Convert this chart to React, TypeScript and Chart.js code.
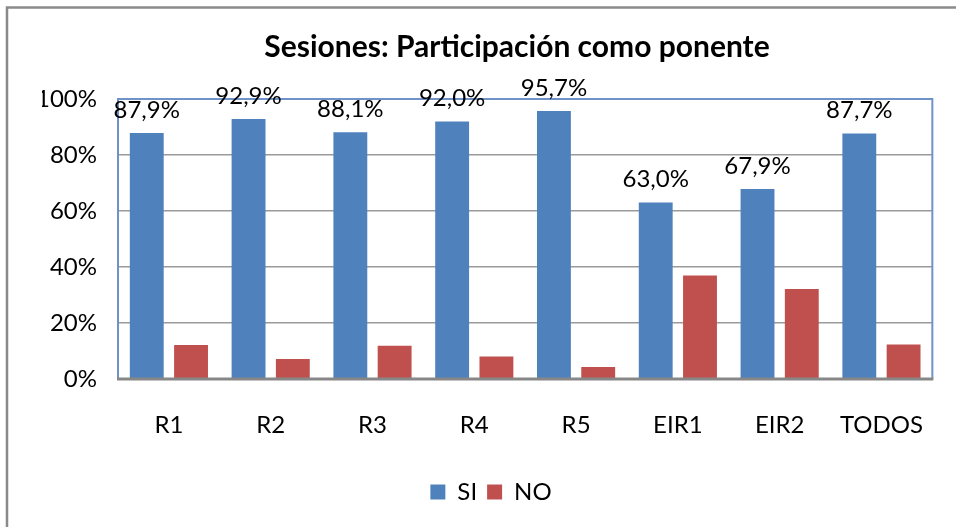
import React, { useEffect, useRef } from "react";
import { Chart, registerables } from "chart.js";

Chart.register(...registerables);

const categories = ["R1", "R2", "R3", "R4", "R5", "EIR1", "EIR2", "TODOS"];
const siValues = [87.9, 92.9, 88.1, 92.0, 95.7, 63.0, 67.9, 87.7];
const noValues = [12.1, 7.1, 11.9, 8.0, 4.3, 37.0, 32.1, 12.3];
const yTicks = [0, 20, 40, 60, 80, 100];
const titleText = "Sesiones: Participación como ponente";

const FONT = "Lato, 'Open Sans', sans-serif";

const framePlugin = {
  id: "frame",
  beforeDraw(chart: any) {
    const ctx = chart.ctx;
    ctx.save();
    ctx.fillStyle = "#ffffff";
    ctx.fillRect(0, 0, chart.width, chart.height);
    ctx.strokeStyle = "#8a8a8a";
    ctx.lineWidth = 2.5;
    ctx.beginPath();
    ctx.moveTo(7, chart.height + 2);
    ctx.lineTo(7, 7.5);
    ctx.lineTo(chart.width + 2, 7.5);
    ctx.stroke();
    // title
    ctx.fillStyle = "#000";
    ctx.font = `bold 30px ${FONT}`;
    ctx.textAlign = "center";
    ctx.textBaseline = "middle";
    ctx.fillText(titleText, 517, 47);
    ctx.restore();
  },
  afterDatasetsDraw(chart: any) {
    const ctx = chart.ctx;
    const a = chart.chartArea;
    ctx.save();
    ctx.strokeStyle = "#6f93c8";
    ctx.lineWidth = 2;
    ctx.beginPath();
    ctx.moveTo(a.left, a.bottom);
    ctx.lineTo(a.left, a.top);
    ctx.lineTo(a.right, a.top);
    ctx.lineTo(a.right, a.bottom);
    ctx.stroke();
    ctx.strokeStyle = "#878787";
    ctx.lineWidth = 3;
    ctx.beginPath();
    ctx.moveTo(a.left - 1, a.bottom);
    ctx.lineTo(a.right + 1, a.bottom);
    ctx.stroke();
    // data labels for SI
    const meta = chart.getDatasetMeta(0);
    ctx.fillStyle = "#000";
    ctx.font = `24px ${FONT}`;
    ctx.textAlign = "center";
    ctx.textBaseline = "middle";
    meta.data.forEach((bar: any, i: number) => {
      const v = siValues[i];
      const txt = v.toFixed(1).replace(".", ",") + "%";
      ctx.fillText(txt, bar.x, bar.y - 23);
    });
    ctx.restore();
  },
};

export default function App() {
  const ref = useRef<HTMLCanvasElement | null>(null);
  useEffect(() => {
    if (!ref.current) return;
    const chart = new Chart(ref.current, {
      type: "bar",
      data: {
        labels: categories,
        datasets: [
          { label: "SI", data: siValues, backgroundColor: "#4f81bd", borderWidth: 0 },
          { label: "NO", data: noValues, backgroundColor: "#c0504d", borderWidth: 0 },
        ],
      },
      options: {
        responsive: false,
        animation: false,
        devicePixelRatio: 1,
        layout: { padding: { left: 42, right: 16, top: 99, bottom: 13 } },
        datasets: { bar: { categoryPercentage: 0.87, barPercentage: 0.765 } },
        scales: {
          x: {
            grid: { display: false, drawTicks: false },
            border: { display: false },
            ticks: { color: "#000", font: { family: FONT, size: 24 }, padding: 32, maxRotation: 0 },
            afterFit: (s: any) => { s.height = 91; },
          },
          y: {
            min: 0,
            max: 100,
            afterBuildTicks: (s: any) => { s.ticks = yTicks.map((v) => ({ value: v })); },
            grid: { color: "#9a9a9a", lineWidth: 1.5, drawTicks: false },
            border: { display: false },
            ticks: {
              color: "#000",
              font: { family: FONT, size: 24 },
              padding: 21,
              callback: (v: any) => v + "%",
            },
            afterFit: (s: any) => { s.width = 76; },
          },
        },
        plugins: {
          title: { display: false },
          tooltip: { enabled: false },
          legend: {
            position: "bottom",
            labels: {
              color: "#000",
              font: { family: FONT, size: 24 },
              boxWidth: 15,
              boxHeight: 15,
              padding: 10,
            },
          },
        },
      },
      plugins: [framePlugin],
    });
    return () => chart.destroy();
  }, []);
  return (
    <div style={{ position: "fixed", left: 0, top: 0, width: 956, height: 527, background: "#fff" }}>
      <canvas ref={ref} width={956} height={527} style={{ display: "block" }} />
    </div>
  );
}
